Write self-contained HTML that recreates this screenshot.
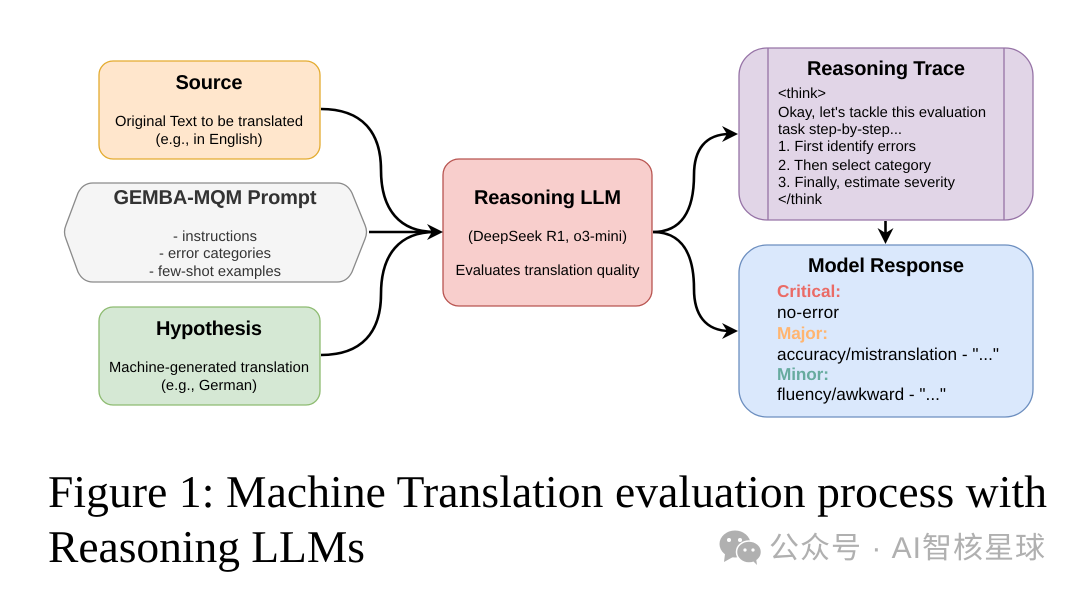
<!DOCTYPE html>
<html><head><meta charset="utf-8"><style>
html,body{margin:0;padding:0;background:#fff}
svg{display:block}
text{font-family:"Liberation Sans",sans-serif;fill:#000;text-rendering:geometricPrecision}
.t{font-weight:bold;font-size:20px;text-anchor:middle}
.b{font-size:14.700px;text-anchor:middle}
.l{font-size:14.700px}
.r{font-size:17.200px}
.c{font-family:"Liberation Serif",serif;font-size:45.500px}
.w{font-family:"Liberation Sans","Noto Sans CJK SC",sans-serif;font-size:30px;fill:#b0b0b0}
.e{fill:none;stroke:#000;stroke-width:2.600}
</style></head><body>
<svg width="1080" height="592" viewBox="0 0 1080 592" xmlns="http://www.w3.org/2000/svg">
<rect x="99" y="61" width="221" height="98" rx="14" fill="#ffe6cc" stroke="#e3ab2f" stroke-width="1.300"/>
<path d="M93 183H337Q347 183 352 193L365 225Q368 232 365 239L352 272Q347 282 337 282H93Q83 282 78 272L66 239Q63 232 66 225L78 193Q83 183 93 183Z" fill="#f5f5f5" stroke="#8a8a8a" stroke-width="1.300"/>
<rect x="99" y="307" width="221" height="98" rx="14" fill="#d5e8d4" stroke="#8dbb70" stroke-width="1.300"/>
<rect x="443" y="159" width="209" height="147" rx="16" fill="#f8cecc" stroke="#b85450" stroke-width="1.300"/>
<rect x="739" y="48" width="294" height="172" rx="28" fill="#e1d5e7" stroke="#9673a6" stroke-width="1.300"/>
<path d="M768 48V220M1004 48V220" stroke="#9673a6" stroke-width="1.300" fill="none"/>
<rect x="739" y="245" width="294" height="172" rx="28" fill="#dae8fc" stroke="#6c8ebf" stroke-width="1.300"/>

<path class="e" d="M321 109C362 109 381 132 381 170C381 210 400 232 435 232"/>
<path class="e" d="M369 232H435"/>
<path class="e" d="M321 355C362 355 381 332 381 294C381 254 400 232 435 232"/>
<path d="M443 232L427 224L432 232L427 240Z" fill="#000"/>
<path class="e" d="M653 232C682 232 694 210 694 175C694 150 705 134 730 134"/>
<path class="e" d="M653 232C682 232 694 254 694 289C694 314 705 331 730 331"/>
<path d="M738 134L722 126L727 134L722 142Z" fill="#000"/>
<path d="M738 331L722 323L727 331L722 339Z" fill="#000"/>
<path class="e" d="M885.500 221V236"/>
<path d="M885.500 244L877.500 228L885.500 233L893.500 228Z" fill="#000"/>

<text class="t" x="209" y="89" textLength="67">Source</text>
<text class="b" x="209" y="126" textLength="188">Original Text to be translated</text>
<text class="b" x="209" y="144" textLength="107">(e.g., in English)</text>

<text class="t" x="215" y="204" textLength="203" style="fill:#333">GEMBA-MQM Prompt</text>
<text class="b" x="215" y="241" textLength="84" style="fill:#333">- instructions</text>
<text class="b" x="215" y="258" textLength="112" style="fill:#333">- error categories</text>
<text class="b" x="215" y="276" textLength="132" style="fill:#333">- few-shot examples</text>

<text class="t" x="209" y="335" textLength="106">Hypothesis</text>
<text class="b" x="209" y="372" textLength="200">Machine-generated translation</text>
<text class="b" x="209" y="390" textLength="96">(e.g., German)</text>

<text class="t" x="547.500" y="204" textLength="147">Reasoning LLM</text>
<text class="b" x="547.500" y="241" textLength="159">(DeepSeek R1, o3-mini)</text>
<text class="b" x="547.500" y="275" textLength="184">Evaluates translation quality</text>

<text class="t" x="886" y="75" textLength="158">Reasoning Trace</text>
<text class="l" x="778" y="98" textLength="48">&lt;think&gt;</text>
<text class="l" x="778" y="117" textLength="208">Okay, let's tackle this evaluation</text>
<text class="l" x="778" y="134" textLength="124">task step-by-step...</text>
<text class="l" x="778" y="151" textLength="138">1. First identify errors</text>
<text class="l" x="778" y="170" textLength="153">2. Then select category</text>
<text class="l" x="778" y="187" textLength="177">3. Finally, estimate severity</text>
<text class="l" x="778" y="204" textLength="44">&lt;/think</text>

<text class="t" x="886" y="272" textLength="156">Model Response</text>
<text class="r" x="777" y="297" textLength="64" style="font-weight:bold;fill:#ea6b66">Critical:</text>
<text class="r" x="777" y="318" textLength="62">no-error</text>
<text class="r" x="777" y="339" textLength="51" style="font-weight:bold;fill:#ffb570">Major:</text>
<text class="r" x="777" y="360" textLength="222">accuracy/mistranslation - "..."</text>
<text class="r" x="777" y="380" textLength="52" style="font-weight:bold;fill:#67ab9f">Minor:</text>
<text class="r" x="777" y="400" textLength="169">fluency/awkward - "..."</text>

<text class="c" x="48" y="507" textLength="999">Figure 1: Machine Translation evaluation process with</text>
<text class="c" x="48" y="562" textLength="317">Reasoning LLMs</text>

<ellipse cx="735" cy="544" rx="15.500" ry="13.500" fill="#b0b0b0"/>
<path d="M725 554L724 562L733 557Z" fill="#b0b0b0"/>
<ellipse cx="749" cy="552" rx="12.500" ry="11" fill="#b0b0b0" stroke="#fff" stroke-width="1.500"/>
<path d="M753 561L757 565L756 558Z" fill="#b0b0b0"/>
<circle cx="729" cy="540" r="2" fill="#fff"/><circle cx="740" cy="540" r="2" fill="#fff"/>
<circle cx="745" cy="550" r="1.600" fill="#fff"/><circle cx="753" cy="550" r="1.600" fill="#fff"/>
<text class="w" x="769" y="558" textLength="276">公众号 · AI智核星球</text>
</svg>
</body></html>
